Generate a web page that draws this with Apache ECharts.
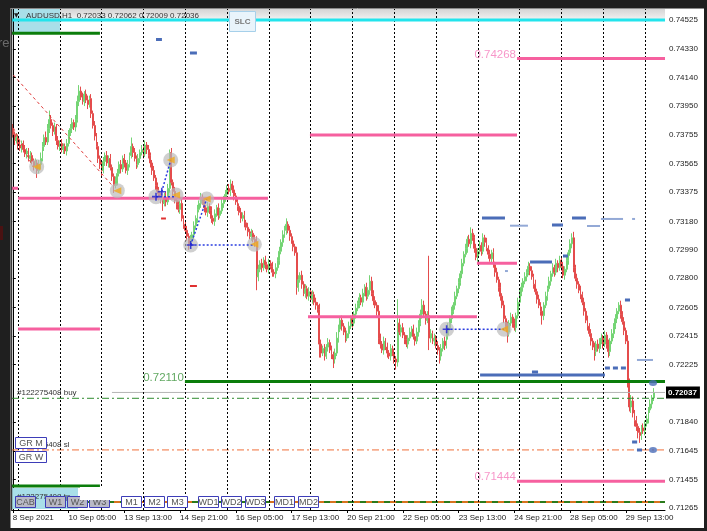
<!DOCTYPE html>
<html><head><meta charset="utf-8">
<script src="https://cdn.jsdelivr.net/npm/echarts@6/dist/echarts.min.js"></script>
<style>html,body{margin:0;padding:0;background:#1f1f1f;}#c{width:707px;height:531px;}</style>
</head><body><div id="c"></div>
<script>
// ---------- data ----------
const xLabels = ['8 Sep 2021','10 Sep 05:00','13 Sep 13:00','14 Sep 21:00','16 Sep 05:00','17 Sep 13:00','20 Sep 21:00','22 Sep 05:00','23 Sep 13:00','24 Sep 21:00','28 Sep 05:00','29 Sep 13:00'];
const xLabelBars = [0,32,64,96,128,160,192,224,256,288,320,352];
const dayBars = [3,27,51,75,99,123,147,171,195,219,243,267,291,315,339,363];
const yTicks = [0.74525,0.74330,0.74140,0.73950,0.73755,0.73565,0.73375,0.73180,0.72990,0.72800,0.72605,0.72415,0.72225,0.71840,0.71645,0.71455,0.71265];
const barCount = 375;
const firstOpen = 7380;
const closePips = [
7376,7372,7374,7369,7367,7370,7366,7363,7365,7360,7362,7358,7355,7357,7352,7356,7360,7368,7374,7371,
7380,7386,7382,7378,7381,7372,7368,7370,7366,7368,7365,7370,7377,7380,7384,7381,7386,7398,7405,7401,
7398,7403,7399,7396,7400,7390,7382,7375,7368,7360,7356,7352,7358,7362,7357,7360,7354,7348,7342,7345,
7350,7356,7353,7360,7357,7352,7356,7362,7368,7364,7360,7356,7360,7364,7366,7363,7369,7366,7362,7357,
7352,7347,7342,7338,7335,7333,7330,7334,7331,7340,7364,7344,7338,7332,7329,7326,7330,7320,7316,7312,
7308,7303,7306,7309,7315,7320,7326,7330,7334,7331,7327,7324,7328,7325,7320,7318,7323,7327,7322,7325,
7330,7333,7336,7340,7338,7343,7339,7335,7331,7328,7324,7320,7322,7317,7314,7311,7308,7310,7306,7304,
7281,7286,7290,7287,7292,7289,7286,7290,7288,7284,7283,7287,7292,7298,7304,7309,7312,7316,7312,7308,
7305,7301,7297,7274,7279,7282,7276,7270,7273,7268,7271,7266,7269,7264,7262,7259,7236,7230,7233,7228,
7234,7237,7232,7229,7226,7230,7240,7246,7252,7248,7244,7240,7243,7248,7253,7250,7256,7260,7263,7267,
7264,7270,7274,7268,7272,7278,7270,7265,7262,7258,7240,7236,7232,7238,7234,7230,7228,7233,7230,7226,
7224,7250,7244,7247,7242,7239,7236,7240,7244,7246,7241,7238,7244,7250,7256,7262,7256,7252,7255,7240,
7243,7238,7240,7235,7232,7228,7233,7238,7235,7242,7247,7253,7258,7262,7268,7273,7277,7283,7290,7296,
7300,7306,7303,7310,7307,7300,7294,7298,7302,7298,7307,7304,7300,7296,7293,7297,7289,7284,7279,7274,
7268,7262,7253,7248,7244,7250,7254,7250,7247,7255,7264,7270,7274,7278,7281,7284,7288,7285,7281,7276,
7271,7266,7262,7258,7255,7262,7268,7273,7278,7283,7287,7284,7290,7287,7292,7288,7282,7286,7292,7297,
7303,7307,7287,7280,7276,7272,7269,7264,7258,7252,7248,7243,7238,7234,7231,7236,7233,7238,7240,7236,
7242,7236,7231,7238,7243,7248,7253,7258,7262,7256,7251,7245,7238,7210,7194,7198,7190,7185,7181,7177,
7175,7180,7178,7183,7186,7192,7196,7200,7203.6];
const wickUp = [
3,2,3,2,3,2,2,3,2,2,3,2,2,3,2,3,4,3,2,4,
3,6,3,2,3,2,3,2,3,2,2,3,2,3,3,2,3,4,4,3,
3,2,3,3,2,3,2,3,2,3,2,3,3,2,3,2,3,2,2,3,
3,2,3,2,3,2,3,2,6,2,3,2,3,2,3,2,3,2,3,2,
2,3,2,2,3,2,2,3,4,3,2,3,2,3,2,3,2,3,2,2,
3,2,3,2,3,2,3,2,3,2,3,2,3,2,3,2,3,2,3,2,
3,2,3,2,3,3,2,3,2,3,2,3,2,3,2,3,2,3,2,3,
4,3,2,3,2,3,2,3,2,3,2,3,2,3,2,3,3,4,2,3,
2,3,2,4,3,2,3,2,3,2,3,2,3,2,3,2,4,3,2,3,
2,3,2,3,2,3,4,3,2,3,2,3,2,3,2,3,2,3,2,3,
2,3,2,3,2,4,3,2,3,2,4,3,2,3,2,3,2,3,2,3,
2,16,3,2,3,2,3,2,3,2,3,2,3,2,3,4,3,2,3,40,
3,2,3,2,3,2,3,2,3,2,3,2,3,2,3,2,3,2,3,2,
3,2,3,4,3,2,3,2,3,2,3,2,3,2,3,2,3,2,3,2,
3,2,3,2,3,2,3,2,3,2,3,2,3,2,3,2,3,2,3,2,
3,2,3,2,3,2,3,2,3,2,3,2,3,2,3,2,3,2,3,2,
3,3,4,2,3,2,3,2,3,2,3,2,3,2,3,2,3,2,3,2,
3,2,3,2,3,2,3,2,2,3,2,3,2,4,3,4,3,2,3,2,
3,2,3,2,3,2,3,2,3];
const wickDown = [
2,3,2,3,2,3,2,2,3,2,3,2,3,2,5,2,3,2,3,2,
2,3,2,3,2,3,2,3,2,3,2,3,2,2,3,2,3,2,3,2,
2,3,2,3,2,3,2,3,2,3,3,5,2,3,2,3,2,3,5,2,
3,2,3,2,3,2,3,2,2,3,2,3,2,3,2,3,2,3,2,3,
3,2,3,2,3,3,5,2,3,2,3,2,3,2,3,2,3,2,3,2,
3,4,3,2,3,2,3,2,3,2,3,2,3,2,3,2,3,2,3,2,
2,3,2,3,2,3,2,3,2,3,2,3,2,3,2,3,2,3,2,3,
9,3,2,3,2,3,2,3,2,3,2,3,2,3,2,3,2,3,2,3,
2,3,2,5,3,2,3,2,3,2,3,2,3,2,3,2,9,3,2,3,
2,3,2,3,6,3,2,3,2,3,2,3,2,3,2,3,2,3,2,3,
2,3,2,3,2,3,2,3,2,3,4,3,2,3,2,3,2,3,2,3,
5,3,2,3,2,3,2,3,2,3,2,3,2,3,2,3,2,3,2,8,
3,2,3,2,3,5,3,2,3,2,3,2,3,2,3,2,3,2,3,2,
2,3,2,3,2,3,2,3,2,3,2,3,2,3,2,3,2,3,2,3,
3,2,3,2,7,3,2,3,2,3,2,3,2,3,2,3,2,3,2,3,
2,3,2,3,6,3,2,3,2,3,2,3,2,3,2,3,2,3,2,3,
2,3,3,2,3,2,3,2,3,2,3,2,3,2,6,3,2,3,2,3,
2,3,4,3,2,3,2,3,2,3,2,3,2,3,3,4,3,4,3,4,
5,3,2,3,2,3,2,3,2];

// horizontal objects: [price, fromBar, toBar]
const cyanLevels = [[0.74525,-0.5,374.5]];
const pinkLevels = [[0.74268,289.5,374.5],[0.73757,170.6,289.5],[0.73334,3,146.5],[0.73401,-0.5,3],[0.72461,3,50],[0.72543,169.5,266.5],[0.72900,266.5,289.5],[0.71444,289.5,374.5]];
const greenLevels = [[0.74436,-0.5,50],[0.72110,98.8,374.5],[0.71412,-0.5,50]];
const blueDark = [[0.73202,269.4,282.6],[0.73156,309.6,315.9],[0.73202,321.1,329.1],[0.72908,297,309.6],[0.72949,315.9,318.8],[0.72655,351.5,354.4],[0.72154,268.3,340],[0.72174,298.1,301.6],[0.74395,82.2,85.6],[0.74305,101.7,105.7],[0.71706,355.6,358.5],[0.71653,358.4,361.3]];
const blueLight = [[0.73151,285.5,295.8],[0.73149,329.7,337.2],[0.73196,337.7,350.4],[0.73196,355.6,357.3],[0.72848,282.6,284.3],[0.72254,358.4,367.6]];
const blueDashed = [[0.72200,340,352.7]];
const redSmall = [[0.73199,85.1,87.9],[0.72748,101.7,105.7]];
const blueDots = [[367.6,0.72100],[367.6,0.71653]];
const currentPrice = [0.72037,56.9,374.5];
const buyLevel = 0.71998, slLevel = 0.71653, tpLevel = 0.71305;
const levelLabels = [[289.5,0.74268,'0.74268'],[98.8,0.72110,'0.72110'],[289.5,0.71444,'0.71444']];
// fractal circles [bar, price]
const circles = [[13.68,0.73545],[59.97,0.73385],[90.64,0.73590],[82.2,0.73345],[93.7,0.73356],[111.3,0.73329],[102.1,0.73022],[138.7,0.73027],[249.1,0.72459],[282.1,0.72459]];
const arrows = [[13.68,0.73545],[59.97,0.73385],[90.64,0.73590],[93.7,0.73356],[111.3,0.73329],[138.7,0.73027],[282.1,0.72459]];
const crosses = [[82.2,0.73345],[85.5,0.73378],[102.1,0.73022],[249.1,0.72459]];
const blueLinks = [[[85.5,0.73378],[90.64,0.73590]],[[82.2,0.73345],[93.7,0.73345]],[[102.1,0.73022],[111.3,0.73329]],[[102.1,0.73022],[138.7,0.73022]],[[249.1,0.72459],[282.1,0.72459]]];
const redDiagonals = [[[0.25,0.74158],[57.7,0.73411]],[[0.25,0.73804],[11.56,0.73543]]];

// ---------- build ----------
const cats = [];
for (let i = 0; i < barCount; i++) cats.push(String(i));
const candles = closePips.map((c, i) => {
  const o = i === 0 ? firstOpen : closePips[i - 1];
  const hi = Math.max(o, c) + (wickUp[i] || 2);
  const lo = Math.min(o, c) - (wickDown[i] || 2);
  return [o / 1e4, c / 1e4, lo / 1e4, hi / 1e4];
});

function seg(lv, color, width, type, z, extra) {
  return Object.assign({
    type: 'line', xAxisIndex: 1, yAxisIndex: 0, data: [[lv[1], lv[0]], [lv[2], lv[0]]],
    symbol: 'none', silent: true, z: z || 4, lineStyle: { color: color, width: width, type: type || 'solid' }
  }, extra || {});
}
const series = [];
series.push({
  type: 'line', xAxisIndex: 1, yAxisIndex: 0, data: [], z: 1, silent: true,
  markLine: { symbol: ['none', 'none'], silent: true, animation: false, label: { show: false },
    lineStyle: { color: '#000', type: [2, 2], width: 1 }, data: dayBars.map(b => ({ xAxis: b })) }
});
series.push({
  type: 'candlestick', xAxisIndex: 0, yAxisIndex: 0, data: candles, barWidth: 1.4, z: 3,
  itemStyle: { color: '#86de86', color0: '#f06262', borderColor: '#74d474', borderColor0: '#e44c4c', borderWidth: 1 }
});
cyanLevels.forEach(l => series.push(seg(l, '#22e4ec', 3, 'solid', 5)));
pinkLevels.forEach(l => series.push(seg(l, '#f6609f', 3, 'solid', 5)));
greenLevels.forEach(l => series.push(seg(l, '#0b7d0b', 3, 'solid', 5)));
blueDark.forEach(l => series.push(seg(l, '#4b6db8', 3, 'solid', 5)));
blueLight.forEach(l => series.push(seg(l, '#93a9d6', 2, 'solid', 5)));
blueDashed.forEach(l => series.push(seg(l, '#4b6db8', 3, [5, 3], 5)));
redSmall.forEach(l => series.push(seg(l, '#e03030', 2, 'solid', 5)));
series.push(seg([buyLevel, -0.5, 374.5], '#2e8b2e', 1, [7, 3, 2, 3], 4));
series.push(seg([slLevel, -0.5, 374.5], '#f0703a', 1, [7, 3, 2, 3], 4));
series.push(seg([tpLevel, -0.5, 374.5], '#2a7a1a', 2, [6, 6], 4));
series.push(seg([tpLevel, -0.5, 374.5], '#d8731e', 2, [6, 6], 4, { lineStyle: { color: '#d8731e', width: 2, type: [6, 6], dashOffset: 6 } }));
series.push(seg(currentPrice, '#b4b4b4', 1, 'solid', 4, {
  clip: false,
  endLabel: { show: true, formatter: '0.72037', backgroundColor: '#000', color: '#fff', fontSize: 8,
    fontWeight: 'bold', fontFamily: 'Liberation Sans', padding: [2, 3, 2, 2], distance: 1 }
}));
redDiagonals.forEach(d => series.push({ type: 'line', xAxisIndex: 1, data: d, symbol: 'none', silent: true, z: 5,
  lineStyle: { color: '#e03a3a', width: 1, type: [3, 3] } }));
series.push({ type: 'scatter', xAxisIndex: 1, data: circles, symbolSize: 15, z: 6, silent: true,
  itemStyle: { color: 'rgba(185,185,185,0.85)' } });
blueLinks.forEach(d => series.push({ type: 'line', xAxisIndex: 1, data: d, symbol: 'none', silent: true, z: 7,
  lineStyle: { color: '#2a3ce0', width: 1.5, type: [2, 2] } }));
series.push({ type: 'scatter', xAxisIndex: 1, data: arrows, symbol: 'triangle', symbolRotate: 90, symbolSize: [7, 8], z: 8, silent: true,
  itemStyle: { color: '#f0a81e' } });
series.push({ type: 'scatter', xAxisIndex: 1, data: crosses, symbol: 'path://M4,0h2v4h4v2h-4v4h-2v-4h-4v-2h4z', symbolSize: 8, z: 8, silent: true,
  itemStyle: { color: '#1c1cd0' } });
series.push({ type: 'scatter', xAxisIndex: 1, data: blueDots, symbol: 'circle', symbolSize: [8, 6], z: 8, silent: true,
  itemStyle: { color: '#4b6db8' } });
series.push({ type: 'scatter', xAxisIndex: 1, symbolSize: 0, z: 9, silent: true,
  data: levelLabels.map((l, k) => ({ value: [l[0], l[1]], label: { show: true, formatter: l[2], position: 'left', distance: 1, offset: [0, -4],
    fontSize: 11.5, fontFamily: 'Liberation Sans', color: k === 1 ? '#3a923a' : '#f57cbc' } })) });

function btn(label, x, y, w, h, fill) {
  return [
    { type: 'rect', z: 100, shape: { x: x + 0.5, y: y + 0.5, width: w, height: h }, style: { fill: fill, stroke: '#3d3db8', lineWidth: 1 } },
    { type: 'text', z: 101, x: x + w / 2 + 0.5, y: y + h / 2 + 1, style: { text: label, fill: '#555', font: '9px "Liberation Sans"', align: 'center', verticalAlign: 'middle' } }
  ];
}
const gray = '#b9b9c6';
let graphics = [
  { type: 'rect', z: 0, shape: { x: 12, y: 9, width: 653, height: 11 }, style: { fill: new echarts.graphic.LinearGradient(0, 0, 0, 1, [{ offset: 0, color: '#d4d4d4' }, { offset: 1, color: '#f3f3f3' }]) } },
  { type: 'rect', z: 0, shape: { x: 12, y: 9, width: 48, height: 24 }, style: { fill: '#a9dfe9' } },
  { type: 'text', z: 20, x: 14, y: 15, style: { text: '▼', fill: '#222', font: '6px "DejaVu Sans"', verticalAlign: 'middle' } },
  { type: 'text', z: 20, x: 26, y: 15.5, style: { text: 'AUDUSD,H1  0.72033 0.72062 0.72009 0.72036', fill: '#333', font: '8px "Liberation Sans"', verticalAlign: 'middle' } },
  { type: 'rect', z: 20, shape: { x: 229.5, y: 11.5, width: 26, height: 20 }, style: { fill: '#e9f4fb', stroke: '#a6d0ea', lineWidth: 1 } },
  { type: 'text', z: 21, x: 242.5, y: 22, style: { text: 'SLC', fill: '#777', font: 'bold 8px "Liberation Sans"', align: 'center', verticalAlign: 'middle' } },
  { type: 'text', z: 20, x: 17, y: 393, style: { text: '#122275408 buy', fill: '#333', font: '8px "Liberation Sans"', verticalAlign: 'middle' } },
  { type: 'text', z: 20, x: 17, y: 445, style: { text: '#122275408 sl', fill: '#333', font: '8px "Liberation Sans"', verticalAlign: 'middle' } },
  { type: 'rect', z: 98, shape: { x: 12, y: 488, width: 66, height: 21 }, style: { fill: '#a9dfe9' } },
  { type: 'text', z: 99, x: 17, y: 497, style: { text: '#122275408 tp', fill: '#333', font: '8px "Liberation Sans"', verticalAlign: 'middle' } }
];
graphics = graphics.concat(btn('GR M', 15, 437, 31, 11, '#fff'), btn('GR W', 15, 451, 31, 11, '#fff'));
[['CAB', 15, gray], ['W1', 45, gray], ['W2', 67, gray], ['W3', 89, gray], ['M1', 121, '#fff'], ['M2', 144, '#fff'], ['M3', 167, '#fff'],
 ['WD1', 198, '#fff'], ['WD2', 221, '#fff'], ['WD3', 245, '#fff'], ['MD1', 274, '#fff'], ['MD2', 298, '#fff']].forEach(b => {
  graphics = graphics.concat(btn(b[0], b[1], 496, 20, 11, b[2]));
});
graphics.push({ type: 'rect', z: 102, shape: { x: 80, y: 487, width: 30, height: 13 }, style: { fill: '#fff' } });
graphics = graphics.concat([
  { type: 'line', z: 150, shape: { x1: 11.5, y1: 8, x2: 11.5, y2: 511 }, style: { stroke: '#3a3a3a', lineWidth: 1.5 } },
  { type: 'line', z: 150, shape: { x1: 11, y1: 8.5, x2: 704, y2: 8.5 }, style: { stroke: '#8a8a8a', lineWidth: 1 } },
  { type: 'rect', z: 200, shape: { x: 0, y: 0, width: 10.5, height: 531 }, style: { fill: '#1f1f1f' } },
  { type: 'rect', z: 200, shape: { x: 0, y: 0, width: 707, height: 8 }, style: { fill: '#1f1f1f' } },
  { type: 'rect', z: 200, shape: { x: 704, y: 0, width: 3, height: 531 }, style: { fill: '#1f1f1f' } },
  { type: 'rect', z: 200, shape: { x: 0, y: 528, width: 707, height: 3 }, style: { fill: '#1f1f1f' } },
  { type: 'text', z: 201, x: -2, y: 43, style: { text: 're', fill: '#6a6a6a', font: '13px "Liberation Sans"', verticalAlign: 'middle' } },
  { type: 'rect', z: 201, shape: { x: 0, y: 226, width: 3, height: 14 }, style: { fill: '#4a1212' } }
]);

const chart = echarts.init(document.getElementById('c'), null, { renderer: 'canvas', width: 707, height: 531 });
chart.setOption({
  animation: false,
  backgroundColor: '#ffffff',
  grid: { left: 12, right: 42, top: 8, bottom: 21, containLabel: false },
  xAxis: [
    { type: 'category', data: cats, boundaryGap: true,
      axisLine: { show: true, lineStyle: { color: '#000', width: 1 } },
      axisTick: { show: true, alignWithLabel: true, interval: (i) => xLabelBars.indexOf(i) >= 0, length: 3, lineStyle: { color: '#000' } },
      axisLabel: { show: true, interval: (i) => xLabelBars.indexOf(i) >= 0, formatter: (v, i) => xLabels[xLabelBars.indexOf(i)] || '',
        align: 'left', fontSize: 8, fontFamily: 'Liberation Sans', color: '#222', margin: 4 },
      splitLine: { show: false } },
    { type: 'value', min: -0.5, max: barCount - 0.5, show: false }
  ],
  yAxis: { type: 'value', position: 'right', min: 0.712517, max: 0.746052, scale: true,
    axisLine: { show: true, lineStyle: { color: '#000', width: 1 } },
    axisTick: { show: true, customValues: yTicks, length: 3, lineStyle: { color: '#000' } },
    axisLabel: { show: true, customValues: yTicks, formatter: (v) => Number(v).toFixed(5), fontSize: 8, fontFamily: 'Liberation Sans', color: '#222', margin: 4 },
    splitLine: { show: false } },
  series: series,
  graphic: graphics
});
</script>
</body></html>
